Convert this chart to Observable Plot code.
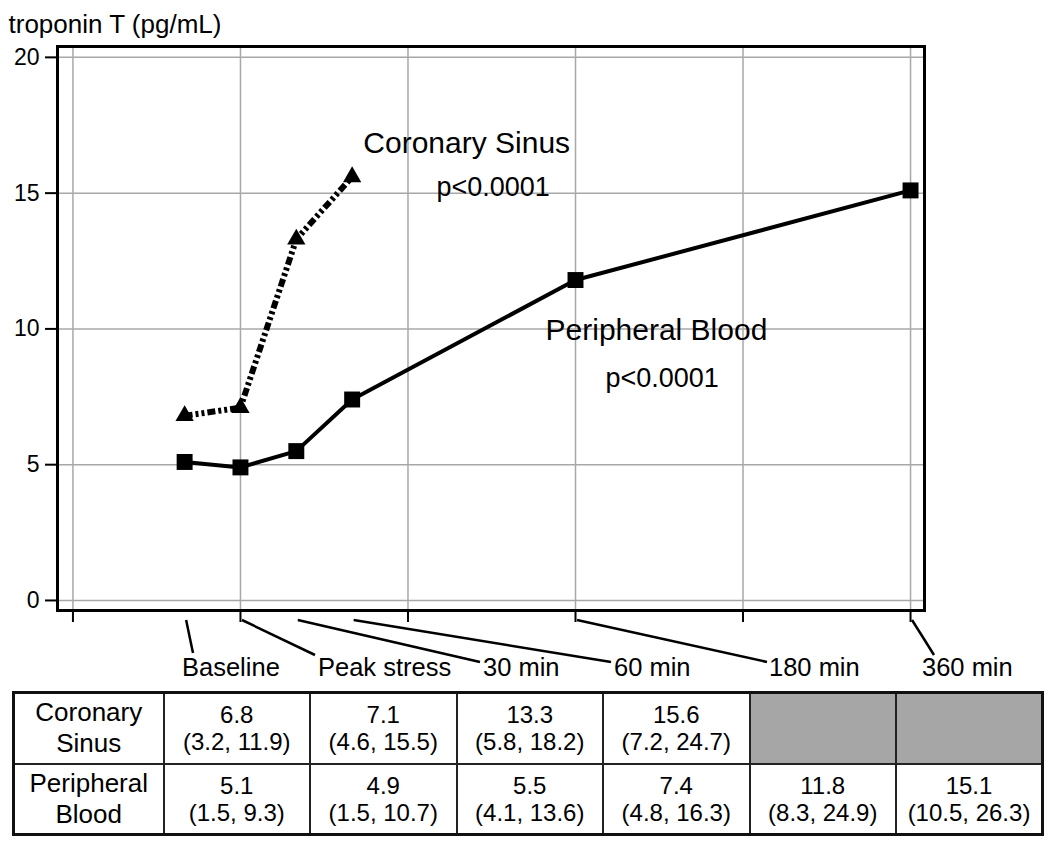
<!DOCTYPE html>
<html><head><meta charset="utf-8">
<script src="https://cdn.jsdelivr.net/npm/d3@7"></script>
<script src="https://cdn.jsdelivr.net/npm/@observablehq/plot@0.6"></script>
<style>
body{margin:0;background:#fff;font-family:"Liberation Sans",Arial,sans-serif;}
#wrap{position:relative;width:1050px;height:842px;overflow:hidden;}
#tbl{position:absolute;left:12px;top:691px;width:1032px;height:145px;border-collapse:collapse;table-layout:fixed;border:3px solid #111;}
#tbl td{border:2px solid #222;text-align:center;vertical-align:middle;padding:0;line-height:27px;font-size:24px;color:#000;}
#tbl td.row{font-size:26px;line-height:31px;}
#tbl td.na{background:#a6a6a6;}
</style></head><body><div id="wrap"></div>
<script>
// ---- data ----
const timeLabels = ["Baseline", "Peak stress", "30 min", "60 min", "180 min", "360 min"];
const timeMinutes = [-30, 0, 30, 60, 180, 360];
const gridTicksX = [-90, 0, 90, 180, 270, 360];
const ticksY = [0, 5, 10, 15, 20];
const seriesNames = ["Coronary Sinus", "Peripheral Blood"];
const rowLabels = [["Coronary", "Sinus"], ["Peripheral", "Blood"]];
const coronary = [6.8, 7.1, 13.3, 15.6, null, null];
const coronaryLo = [3.2, 4.6, 5.8, 7.2, null, null];
const coronaryHi = [11.9, 15.5, 18.2, 24.7, null, null];
const peripheral = [5.1, 4.9, 5.5, 7.4, 11.8, 15.1];
const peripheralLo = [1.5, 1.5, 4.1, 4.8, 8.3, 10.5];
const peripheralHi = [9.3, 10.7, 13.6, 16.3, 24.9, 26.3];
const pLabel = "p<0.0001";
const yLabel = "troponin T (pg/mL)";

// ---- annotation layout (data units) ----
const seriesNotes = [
  {text: seriesNames[0], t: 66, v: 16.46},
  {text: seriesNames[1], t: 163.9, v: 9.58}
];
const pNotes = [
  {text: pLabel, t: 105.3, v: 14.88},
  {text: pLabel, t: 196.1, v: 7.85}
];
// ---- x label layout (pixels) ----
const labelLeft = [182, 318, 483, 614, 769, 922];
const leaderEnd = [[193, 653], [315, 655], [480, 662], [611, 662], [767, 662], [934, 655]];

const csData = timeMinutes.map((t, i) => ({t, v: coronary[i]})).filter(d => d.v != null);
const pbData = timeMinutes.map((t, i) => ({t, v: peripheral[i]}));

const FONT = '"Liberation Sans", Arial, Helvetica, sans-serif';
const chart = Plot.plot({
  width: 1050, height: 690,
  marginLeft: 57, marginRight: 126, marginTop: 46, marginBottom: 80,
  style: {fontFamily: FONT, fontSize: "23px", color: "#000", background: "#fff", overflow: "visible"},
  x: {domain: [-98.3, 367.5]},
  y: {domain: [-0.37, 20.4]},
  marks: [
    Plot.gridX(gridTicksX, {stroke: "#a8a8a8", strokeOpacity: 1, strokeWidth: 1.5}),
    Plot.gridY(ticksY, {stroke: "#a8a8a8", strokeOpacity: 1, strokeWidth: 1.5}),
    Plot.axisX(gridTicksX, {tickSize: 12, tickFormat: () => "", strokeWidth: 2, stroke: "#000", label: null}),
    Plot.axisY(ticksY, {tickSize: 12, tickPadding: 6, fontSize: 23, strokeWidth: 2, stroke: "#000", label: null}),
    Plot.line(pbData, {x: "t", y: "v", stroke: "#000", strokeWidth: 4}),
    Plot.line(csData, {x: "t", y: "v", stroke: "#000", strokeWidth: 6, strokeLinecap: "butt", strokeLinejoin: "miter", strokeDasharray: "8,3,3,3,3,3"}),
    Plot.dot(pbData, {x: "t", y: "v", symbol: "square", r: 9, fill: "#000"}),
    Plot.dot(csData, {x: "t", y: "v", symbol: "triangle", r: 6.8, fill: "#000"}),
    Plot.text(seriesNotes, {x: "t", y: "v", text: "text", textAnchor: "start", lineAnchor: "bottom", fontSize: 30, fill: "#000"}),
    Plot.text(pNotes, {x: "t", y: "v", text: "text", textAnchor: "start", lineAnchor: "bottom", fontSize: 27, fill: "#000"}),
    Plot.text([yLabel], {frameAnchor: "top-left", dx: -49, dy: -14, textAnchor: "start", lineAnchor: "bottom", fontSize: 26, fill: "#000"}),
    Plot.frame({stroke: "#000", strokeWidth: 3})
  ]
});

const xs = chart.scale("x");
const svg = d3.select(chart);
const g = svg.append("g").attr("text-anchor", "start");
timeLabels.forEach((lab, i) => {
  const x0 = xs.apply(timeMinutes[i]) + 2;
  g.append("line")
    .attr("x1", x0).attr("y1", 620)
    .attr("x2", leaderEnd[i][0]).attr("y2", leaderEnd[i][1])
    .attr("stroke", "#000").attr("stroke-width", 2.5);
  g.append("text")
    .attr("x", labelLeft[i]).attr("y", 676)
    .attr("text-anchor", "start")
    .style("font-size", "25.5px").style("font-family", FONT).attr("fill", "#000")
    .text(lab);
});

const wrap = document.getElementById("wrap");
wrap.appendChild(chart);

// table
const table = d3.select(wrap).append("table").attr("id", "tbl");
const cg = table.append("colgroup");
cg.append("col").style("width", "150px");
timeLabels.forEach(() => cg.append("col"));
const rows = [
  {label: rowLabels[0], med: coronary, lo: coronaryLo, hi: coronaryHi},
  {label: rowLabels[1], med: peripheral, lo: peripheralLo, hi: peripheralHi}
];
const fmt = d3.format(".1f");
rows.forEach(r => {
  const tr = table.append("tr");
  tr.append("td").attr("class", "row").html(r.label.join("<br>"));
  r.med.forEach((m, i) => {
    const td = tr.append("td");
    if (m == null) td.attr("class", "na");
    else td.html(`${fmt(m)}<br>(${fmt(r.lo[i])}, ${fmt(r.hi[i])})`);
  });
});
</script></body></html>
